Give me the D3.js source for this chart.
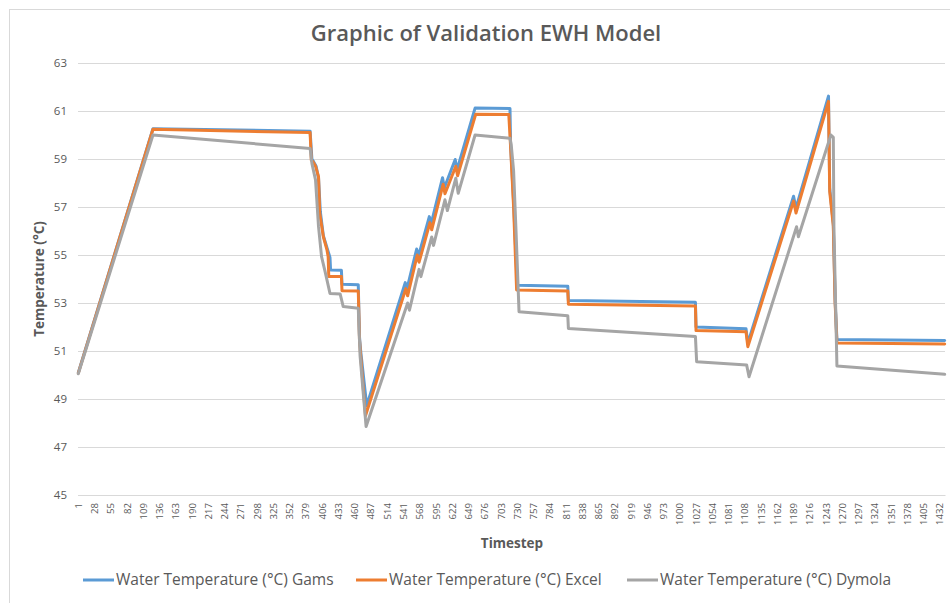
<!DOCTYPE html>
<html>
<head>
<meta charset="utf-8">
<script src="https://cdn.jsdelivr.net/npm/d3@7"></script>
<style>
  html, body { margin: 0; padding: 0; background: #ffffff; }
  svg { display: block; font-family: "Open Sans", "Liberation Sans", sans-serif; }
</style>
</head>
<body>
<svg id="chart" width="950" height="603"></svg>
<script>
// Category axis: one category per timestep of the day
const timesteps = d3.range(1, 1441);
const tickLabels = [1, 28, 55, 82, 109, 136, 163, 190, 217, 244, 271, 298, 325, 352, 379, 406, 433, 460,
  487, 514, 541, 568, 595, 622, 649, 676, 703, 730, 757, 784, 811, 838, 865, 892, 919, 946, 973, 1000,
  1027, 1054, 1081, 1108, 1135, 1162, 1189, 1216, 1243, 1270, 1297, 1324, 1351, 1378, 1405, 1432];
const yTicks = [45, 47, 49, 51, 53, 55, 57, 59, 61, 63];

// Water temperature (°C) at the breakpoints of each simulation
const gamsStep = [1, 125, 386, 389, 392, 396, 400, 403, 408, 414, 419, 420, 438, 439, 466, 468, 470, 480,
  544, 547, 563, 566, 584, 587, 606, 609, 627, 630, 660, 718, 719, 724, 730, 814, 815, 1026, 1027, 1110,
  1113, 1189, 1193, 1247, 1249, 1255, 1258, 1261, 1440];
const gamsTemp = [50.1, 60.26, 60.16, 59.0, 58.88, 58.7, 58.2, 56.8, 55.8, 55.3, 54.9, 54.38, 54.36, 53.78,
  53.76, 51.6, 51.0, 48.72, 53.85, 53.6, 55.25, 54.95, 56.6, 56.3, 58.22, 57.8, 58.98, 58.55, 61.12, 61.1,
  59.6, 57.2, 53.74, 53.7, 53.1, 53.03, 52.0, 51.93, 51.32, 57.45, 56.95, 61.62, 57.8, 56.3, 53.1, 51.48, 51.44];

const excelStep = [1, 125, 386, 388, 391, 395, 400, 402, 408, 414, 416, 417, 438, 439, 466, 468, 470, 478,
  545, 548, 564, 567, 585, 588, 607, 610, 628, 631, 661, 716, 719, 724, 729, 814, 815, 1026, 1027, 1110,
  1113, 1189, 1193, 1247, 1249, 1255, 1258, 1261, 1440];
const excelTemp = [50.08, 60.24, 60.1, 58.95, 58.88, 58.7, 58.26, 56.74, 55.76, 55.21, 54.93, 54.1, 54.1,
  53.51, 53.5, 51.5, 50.8, 48.3, 53.6, 53.3, 55.0, 54.7, 56.35, 56.05, 57.95, 57.55, 58.7, 58.3, 60.86, 60.85,
  59.5, 57.0, 53.54, 53.5, 52.95, 52.87, 51.85, 51.8, 51.18, 57.25, 56.75, 61.4, 57.64, 56.2, 53.0, 51.33, 51.29];

const dymolaStep = [1, 125, 386, 389, 395, 400, 405, 411, 419, 436, 441, 466, 469, 479, 548, 551, 567, 570,
  588, 591, 610, 614, 628, 632, 660, 718, 720, 724, 728, 733, 814, 815, 1026, 1028, 1111, 1115, 1194, 1197,
  1251, 1255, 1256, 1261, 1440];
const dymolaTemp = [50.05, 60.0, 59.44, 58.82, 58.13, 56.18, 54.93, 54.3, 53.4, 53.37, 52.85, 52.78, 50.8,
  47.85, 53.0, 52.7, 54.4, 54.1, 55.75, 55.4, 57.3, 56.85, 58.2, 57.57, 60.0, 59.86, 59.6, 58.5, 56.0, 52.64,
  52.47, 51.94, 51.6, 50.55, 50.42, 49.93, 56.18, 55.76, 60.0, 59.9, 56.18, 50.38, 50.03];

const seriesNames = ["Water Temperature (°C) Gams", "Water Temperature (°C) Excel", "Water Temperature (°C) Dymola"];
const seriesColors = ["#5b9bd5", "#ed7d31", "#a5a5a5"];

const series = [
  { name: seriesNames[0], color: seriesColors[0], pts: d3.zip(gamsStep, gamsTemp) },
  { name: seriesNames[1], color: seriesColors[1], pts: d3.zip(excelStep, excelTemp) },
  { name: seriesNames[2], color: seriesColors[2], pts: d3.zip(dymolaStep, dymolaTemp) }
];

const svg = d3.select("#chart");
const plot = { left: 78, right: 945, top: 63, bottom: 495 };
const textColor = "#595959";

// chart area frame
svg.append("rect")
  .attr("x", 9.5).attr("y", 9.5).attr("width", 1000).attr("height", 700)
  .attr("fill", "#ffffff").attr("stroke", "#d9d9d9").attr("stroke-width", 1);

const x = d3.scaleBand().domain(timesteps).range([plot.left, plot.right]).padding(0);
const xc = t => x(t) + x.bandwidth() / 2;
const y = d3.scaleLinear().domain([45, 63]).range([plot.bottom, plot.top]);

// horizontal gridlines and value labels
const yAxis = d3.axisLeft(y).tickValues(yTicks).tickSize(-(plot.right - plot.left)).tickPadding(11)
  .tickFormat(d3.format("d"));
const gy = svg.append("g").attr("transform", `translate(${plot.left},0)`).call(yAxis);
gy.select(".domain").remove();
gy.selectAll(".tick line").attr("stroke", "#d9d9d9").attr("stroke-width", 1);
gy.selectAll(".tick text").attr("fill", textColor).attr("font-size", "11.5px")
  .attr("font-family", "Open Sans");

// category axis with vertical labels
const xAxis = d3.axisBottom(x).tickValues(tickLabels).tickSize(0).tickPadding(0);
const gx = svg.append("g").attr("transform", `translate(0,${plot.bottom})`).call(xAxis);
gx.select(".domain").attr("stroke", "#d9d9d9");
gx.selectAll(".tick text")
  .attr("fill", textColor).attr("font-size", "9.6px").attr("font-family", "Open Sans")
  .attr("text-anchor", "end").attr("dy", "0.35em")
  .attr("transform", "translate(0,8) rotate(-90)")
  .attr("x", 0).attr("y", 0);

// series lines
const line = d3.line().x(d => xc(d[0])).y(d => y(d[1]));
svg.append("g").selectAll("path").data(series).join("path")
  .attr("d", d => line(d.pts))
  .attr("fill", "none")
  .attr("stroke", d => d.color)
  .attr("stroke-width", 3)
  .attr("stroke-linejoin", "round")
  .attr("stroke-linecap", "round");

// titles
svg.append("text").attr("x", 486).attr("y", 41).attr("text-anchor", "middle")
  .attr("fill", textColor).attr("font-size", "22px").attr("font-weight", 600)
  .text("Graphic of Validation EWH Model");

svg.append("text").attr("transform", `translate(44,${(plot.top + plot.bottom) / 2}) rotate(-90)`)
  .attr("text-anchor", "middle").attr("fill", textColor).attr("font-size", "13.5px").attr("font-weight", 700)
  .text("Temperature (°C)");

svg.append("text").attr("x", 512).attr("y", 548).attr("text-anchor", "middle")
  .attr("fill", textColor).attr("font-size", "13.5px").attr("font-weight", 700)
  .text("Timestep");

// legend
const legendX = [83, 356, 627];
const lg = svg.append("g").selectAll("g").data(series).join("g")
  .attr("transform", (d, i) => `translate(${legendX[i]},580)`);
lg.append("line").attr("x1", 0).attr("x2", 31).attr("y1", 0).attr("y2", 0)
  .attr("stroke", d => d.color).attr("stroke-width", 3);
lg.append("text").attr("x", 33).attr("y", 0).attr("dy", "0.35em")
  .attr("fill", textColor).attr("font-size", "15.5px").attr("font-weight", 500)
  .text(d => d.name);
</script>
</body>
</html>
